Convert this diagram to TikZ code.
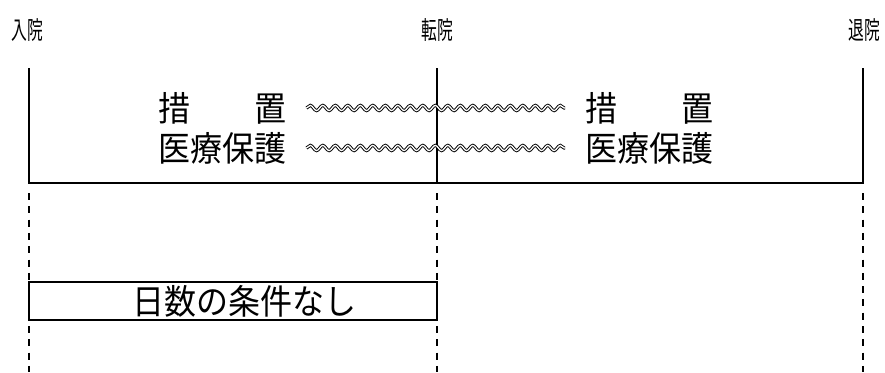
\documentclass[tikz,border=0pt]{standalone}
\usepackage{fontspec}
\newfontfamily\jp{Noto Sans CJK JP}
\usetikzlibrary{decorations.pathmorphing}
\begin{document}
\begin{tikzpicture}[x=1pt,y=-1pt,
  frame/.style={line width=1.8pt},
  midline/.style={line width=1.4pt},
  dashline/.style={line width=1.4pt,dash pattern=on 7pt off 6.3pt},
  wave/.style={decorate,decoration={snake,segment length=12.5pt,amplitude=2.6pt},
    double,double distance=1.3pt,line width=0.95pt},
  big/.style={inner sep=0pt,font=\jp\fontsize{32}{32}\selectfont},
  small/.style={inner sep=0pt,font=\jp\fontsize{25}{25}\selectfont}
]
\useasboundingbox (0,0) rectangle (885,372);
% top labels
\node[small] (nyu) at (27.5,30) {\scalebox{0.63}[1]{入院}};
\node[small] (ten) at (437,30) {\scalebox{0.63}[1]{転院}};
\node[small] (tai) at (864,30) {\scalebox{0.63}[1]{退院}};
% frame
\coordinate (LT) at (29,68);
\coordinate (LB) at (29,183);
\coordinate (MT) at (437,68);
\coordinate (MB) at (437,183);
\coordinate (RT) at (863,68);
\coordinate (RB) at (863,183);
\draw[frame] (LT) -- (LB) -- (RB) -- (RT);
\draw[midline] (MT) -- (MB);
% dashed lines
\coordinate (LD1) at (29,193);
\coordinate (LD2) at (29,372);
\coordinate (MD1) at (437,193);
\coordinate (MD2) at (437,372);
\coordinate (RD1) at (863,193);
\coordinate (RD2) at (863,372);
\draw[dashline] (LD1) -- (LD2);
\draw[dashline] (MD1) -- (MD2);
\draw[dashline] (RD1) -- (RD2);
% texts
\node[big,anchor=west] (sochiL) at (158,108) {\scalebox{1}[1.08]{措　　置}};
\node[big,anchor=west] (iryoL) at (158,148) {\scalebox{1}[1.08]{医療保護}};
\node[big,anchor=west] (sochiR) at (585,108) {\scalebox{1}[1.08]{措　　置}};
\node[big,anchor=west] (iryoR) at (585,148) {\scalebox{1}[1.08]{医療保護}};
\draw[wave] ([xshift=20pt]sochiL.east) -- ([xshift=-20pt]sochiR.west);
\draw[wave] ([xshift=20pt]iryoL.east) -- ([xshift=-20pt]iryoR.west);
% box
\node[draw,line width=1.8pt,fill=white,minimum width=408pt,minimum height=38pt,inner sep=0pt] (box) at (233,301) {};
\node[big] (nissu) at (244,301) {\scalebox{1}[1.08]{日数の条件なし}};
\end{tikzpicture}
\end{document}
